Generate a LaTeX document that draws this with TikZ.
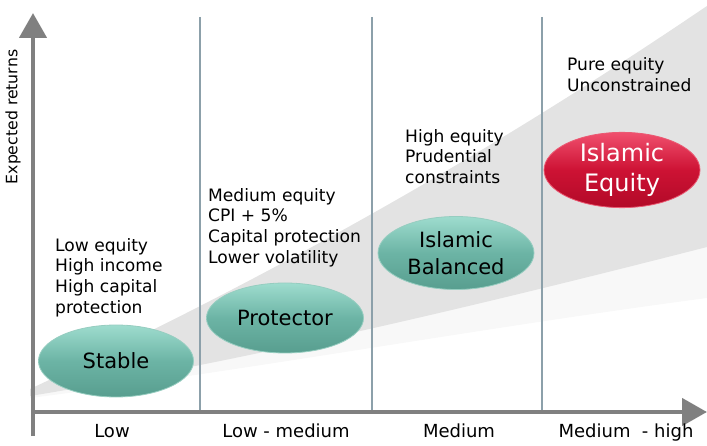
\documentclass[tikz,border=0pt]{standalone}
\usepackage{fontspec}
\setmainfont{DejaVu Sans}
\usetikzlibrary{arrows.meta,shapes.geometric}

\begin{document}
\begin{tikzpicture}
	[x=1pt,y=-1pt,
	%Styles
	axis arrow/.style={line width=4.5pt,draw=axisgray,-{Triangle[length=25pt,width=27pt]}},
	separator/.style={line width=1.5pt,draw=sepgray},
	fund/.style={ellipse,minimum width=156pt,minimum height=72pt,inner sep=0pt,align=center,
		font=\fontsize{21}{27}\selectfont,draw=tealrim,line width=0.8pt,
		top color=tealtop,bottom color=tealbottom,middle color=tealmid},
	hot fund/.style={fund,draw=redrim,top color=redtop,bottom color=redbottom,middle color=redmid,
		text=white,font=\fontsize{24}{30}\selectfont},
	features/.style={anchor=north west,inner sep=0pt,align=left,font=\fontsize{17.1}{20.7}\selectfont},
	risk label/.style={anchor=base,inner sep=0pt,font=\fontsize{18}{22}\selectfont}
	]
	
	%Colors
	\definecolor{axisgray}{RGB}{128,128,128}
	\definecolor{sepgray}{RGB}{140,160,170}
	\definecolor{bandgray}{RGB}{227,227,227}
	\definecolor{bandlight}{RGB}{248,248,248}
	\definecolor{tealtop}{RGB}{158,220,206}
	\definecolor{tealmid}{RGB}{108,180,165}
	\definecolor{tealbottom}{RGB}{88,158,143}
	\definecolor{tealrim}{RGB}{150,205,192}
	\definecolor{redtop}{RGB}{240,80,110}
	\definecolor{redmid}{RGB}{205,18,52}
	\definecolor{redbottom}{RGB}{178,10,40}
	\definecolor{redrim}{RGB}{235,90,115}
	
	\useasboundingbox (0,0) rectangle (707,446);
	
	%Return band
	\fill[bandlight] (30,389) .. controls (260,282) and (480,160) .. (707,6) -- (707,298)
		.. controls (480,328) and (250,370) .. (30,398) -- cycle;
	\fill[bandgray] (30,389) .. controls (260,282) and (480,160) .. (707,6) -- (707,247)
		.. controls (480,305) and (250,360) .. (30,396) -- cycle;
	
	%Separators
	\foreach \x in {200,372,542}
		\draw[separator] (\x,17) -- (\x,412);
	
	%Axes
	\coordinate (origin) at (33,412);
	\coordinate (ybottom) at (33,436);
	\coordinate (ytop) at (33,13);
	\coordinate (xstart) at (31,412);
	\coordinate (xend) at (707,412);
	\draw[axis arrow] (ybottom) -- (ytop);
	\draw[axis arrow] (xstart) -- (xend);
	
	\node[rotate=90,font=\fontsize{15.7}{18}\selectfont] (ylabel) at (13,117) {Expected returns};
	
	\node[risk label] (low) at (112,437) {Low};
	\node[risk label] (lowmed) at (286,437) {Low - medium};
	\node[risk label] (med) at (459,437) {Medium};
	\node[risk label] (medhigh) at (626,437) {Medium\ \ - high};
	
	%Funds
	\node[fund,minimum width=155pt] (stable) at (116,361) {Stable};
	\node[fund,minimum width=157pt,minimum height=70pt] (protector) at (285,318) {Protector};
	\node[fund,minimum height=73pt] (balanced) at (456,253) {Islamic\\Balanced};
	\node[hot fund,minimum height=74pt] (equity) at (622,170) {Islamic\\Equity};
	
	%Descriptions
	\node[features] (stabletext) at (55,238) {Low equity\\High income\\High capital\\protection};
	\node[features] (protectortext) at (208,188) {Medium equity\\CPI + 5\%\\Capital protection\\Lower volatility};
	\node[features] (balancedtext) at (405,129) {High equity\\Prudential\\constraints};
	\node[features] (equitytext) at (567,57.5) {Pure equity\\Unconstrained};
\end{tikzpicture}
\end{document}
